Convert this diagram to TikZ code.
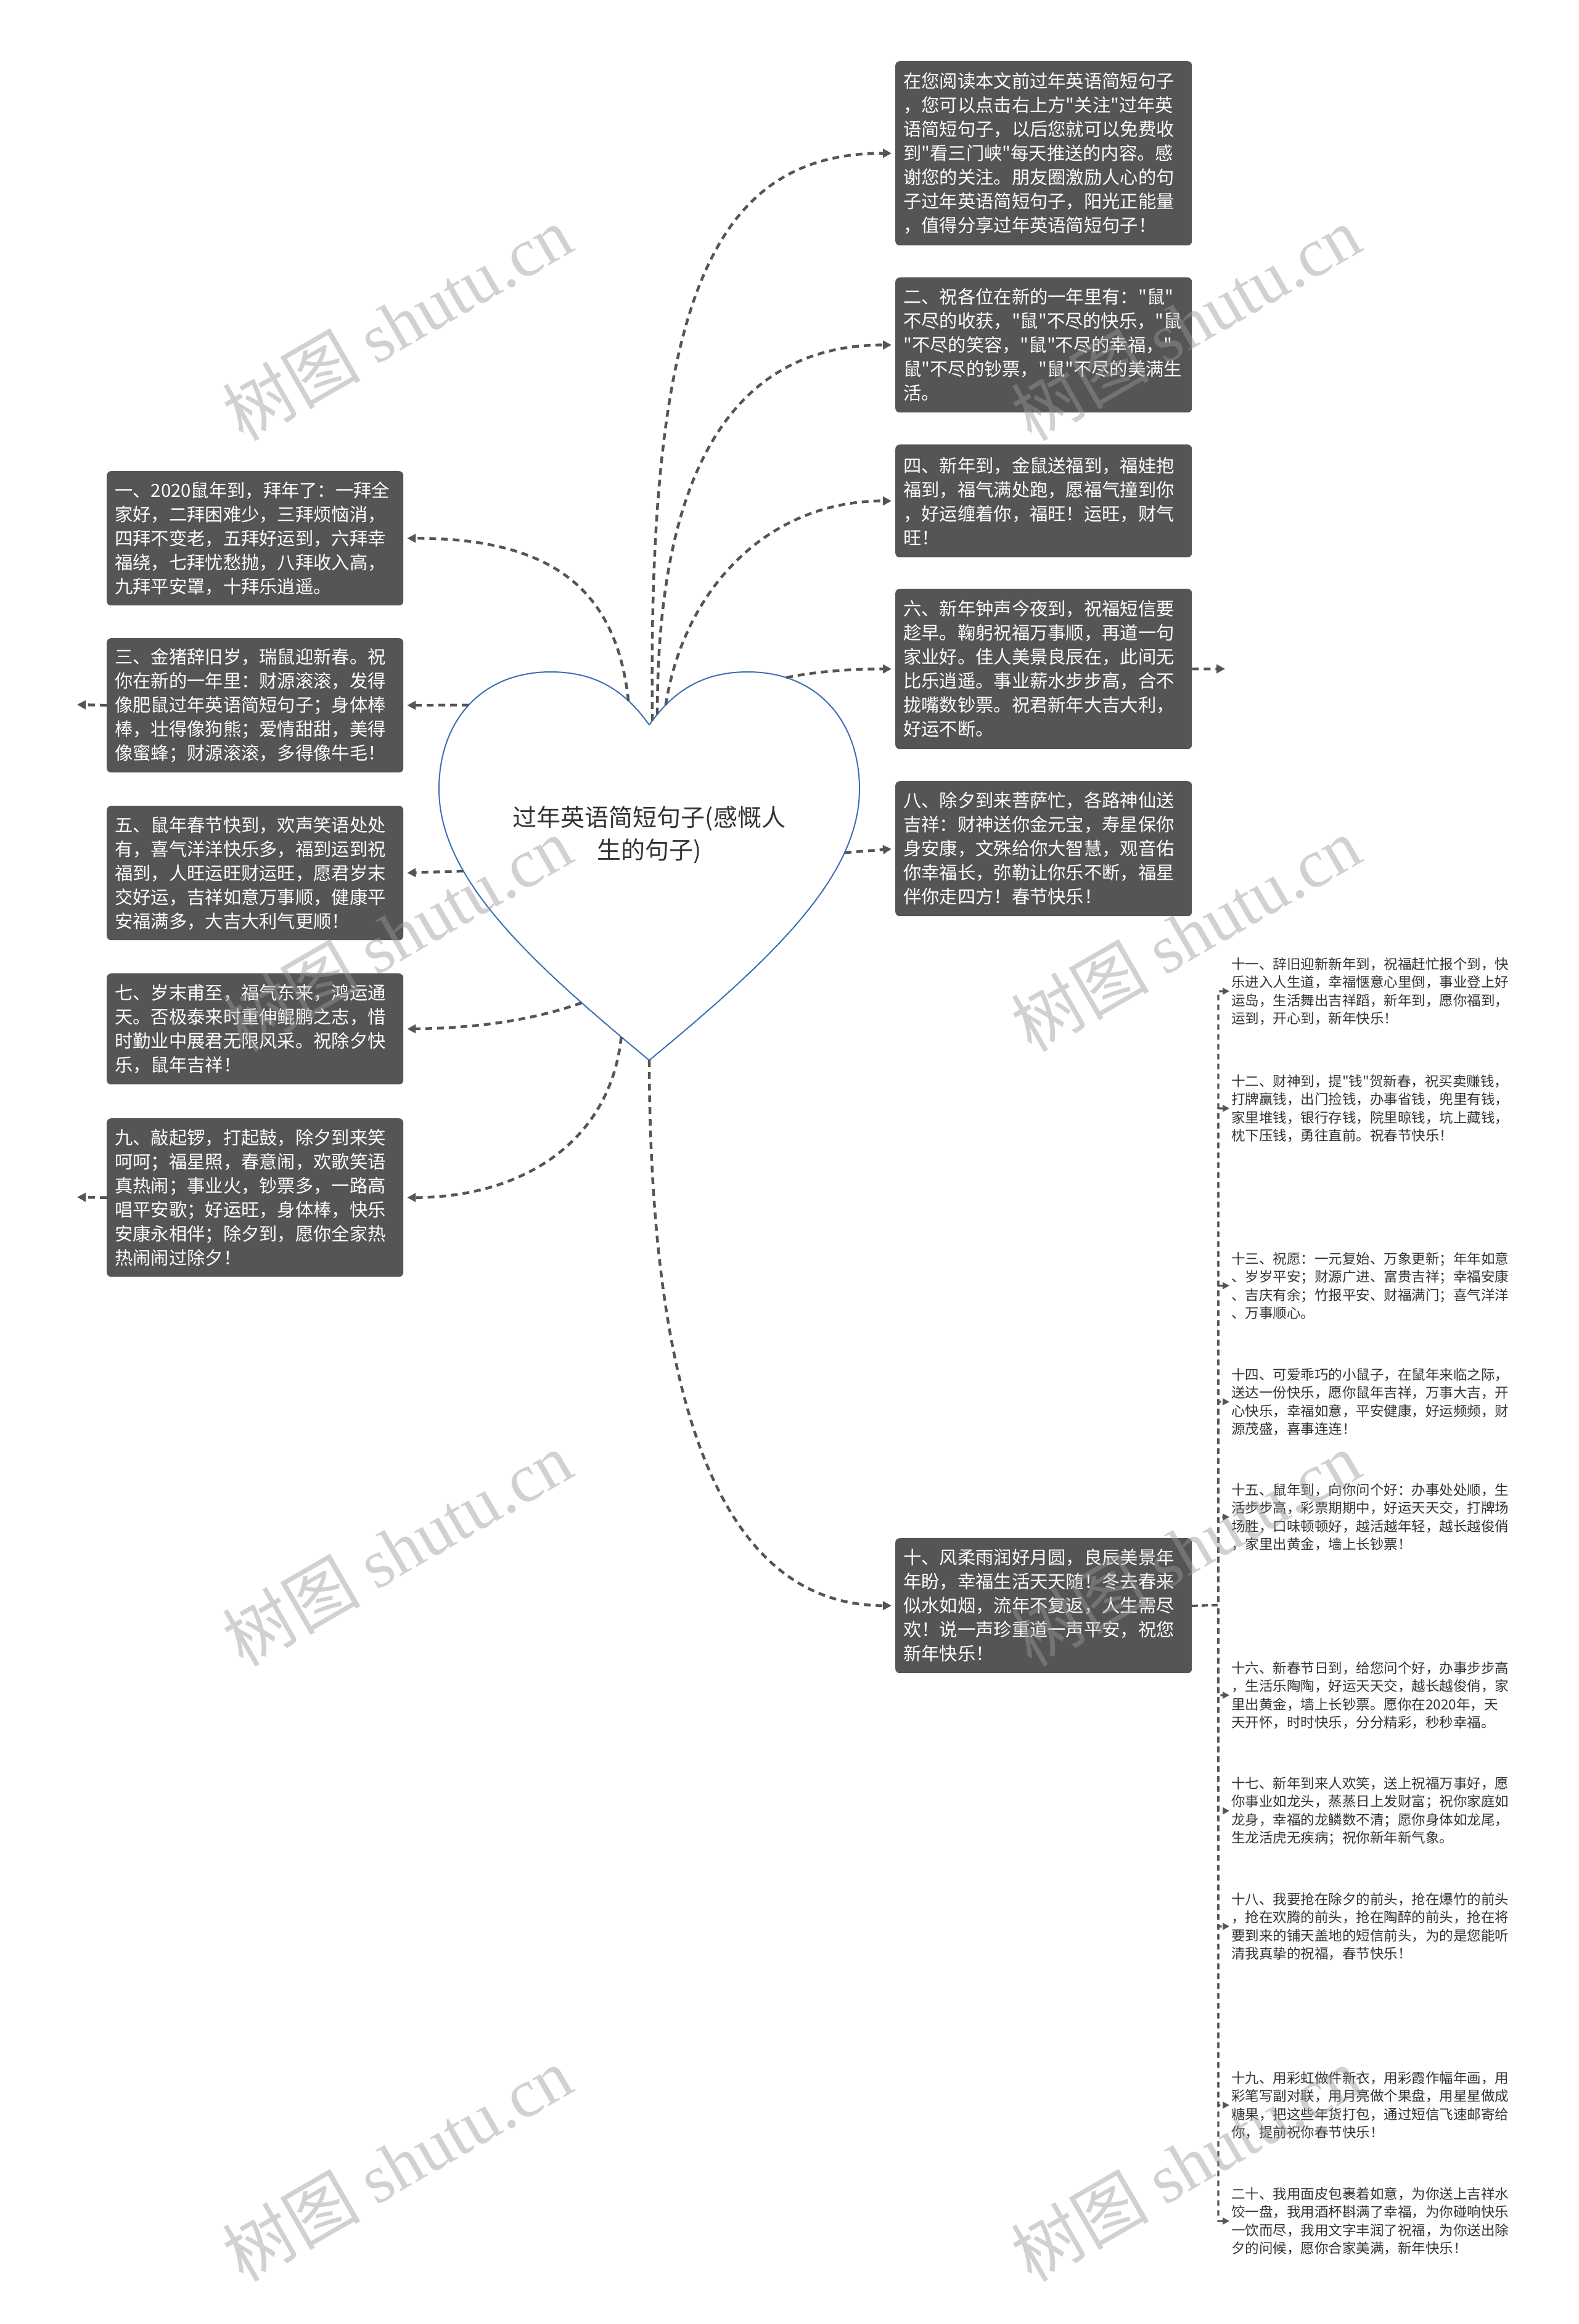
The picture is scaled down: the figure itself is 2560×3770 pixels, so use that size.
\documentclass[tikz,border=0pt]{standalone}
\usepackage{fontspec}
\setmainfont{Noto Sans CJK SC}[Ligatures=TeXOff]
\newfontfamily\wmlatin{Liberation Serif}
\usetikzlibrary{arrows.meta}
\definecolor{boxgray}{HTML}{555555}
\definecolor{linkgray}{HTML}{555555}
\definecolor{heartblue}{HTML}{3D6FB6}
\definecolor{titledark}{HTML}{333333}
\definecolor{smalltxt}{HTML}{333333}
\definecolor{wmgray}{HTML}{999999}
\begin{document}
\begin{tikzpicture}[x=1pt,y=-1pt,
  card/.style={fill=boxgray, rounded corners=7pt, text=white, align=left, inner xsep=13pt, inner ysep=0pt, text width=455pt, minimum width=481pt, anchor=north west, font=\fontsize{29.3}{39}\selectfont},
  item/.style={anchor=base west, inner sep=0pt, text=smalltxt, align=left, text width=470pt, font=\fontsize{22.5}{29.5}\selectfont},
  link/.style={draw=linkgray, line width=4.5pt, dash pattern=on 11pt off 8pt, -{Triangle[length=14pt,width=14pt]}, shorten >=6pt},
  smalllink/.style={draw=linkgray, line width=3.2pt, dash pattern=on 9pt off 7pt, -{Triangle[length=11pt,width=11pt]}, shorten >=3pt},
  wm/.style={text=wmgray, opacity=0.45, rotate=30, font=\fontsize{112}{112}\selectfont},
  heart/.style={draw=heartblue, line width=2pt}
]
\useasboundingbox[fill=white] (0,0) rectangle (2560,3770);

% heart
\draw[heart] (1053,1176)
  .. controls (1010,1115) and (960,1090) .. (893,1090) coordinate[pos=0.25] (h1)
  .. controls (780,1090) and (712,1170) .. (712,1280) coordinate[pos=0.5] (h3)
  .. controls (712,1425) and (860,1560) .. (1053,1720) coordinate[pos=0.31] (h5) coordinate[pos=0.8] (h7) coordinate[pos=0.92] (h9) coordinate[pos=1] (h10)
  .. controls (1246,1560) and (1394,1425) .. (1394,1280) coordinate[pos=0.76] (h8)
  .. controls (1394,1170) and (1326,1090) .. (1213,1090) coordinate[pos=0.8] (h6)
  .. controls (1146,1090) and (1096,1115) .. (1053,1176) coordinate[pos=0.8] (h4) coordinate[pos=0.9] (hB) coordinate[pos=0.96] (hA);
\node[font=\fontsize{39}{53}\selectfont, text=titledark, align=center, text width=500pt] (title) at (1053,1354) {过年英语简短句子(感慨人\\生的句子)};

% right upper cards
\node[card, minimum height=299pt] (nA) at (1452,99) {在您阅读本文前过年英语简短句子\\，您可以点击右上方"关注"过年英\\语简短句子，以后您就可以免费收\\到"看三门峡"每天推送的内容。感\\谢您的关注。朋友圈激励人心的句\\子过年英语简短句子，阳光正能量\\，值得分享过年英语简短句子！};
\node[card, minimum height=219pt] (n2) at (1452,450) {二、祝各位在新的一年里有："鼠"\\不尽的收获，"鼠"不尽的快乐，"鼠\\"不尽的笑容，"鼠"不尽的幸福，"\\鼠"不尽的钞票，"鼠"不尽的美满生\\活。};
\node[card, minimum height=183pt] (n4) at (1452,721) {四、新年到，金鼠送福到，福娃抱\\福到，福气满处跑，愿福气撞到你\\，好运缠着你，福旺！运旺，财气\\旺！};
\node[card, minimum height=260pt] (n6) at (1452,955) {六、新年钟声今夜到，祝福短信要\\趁早。鞠躬祝福万事顺，再道一句\\家业好。佳人美景良辰在，此间无\\比乐逍遥。事业薪水步步高，合不\\拢嘴数钞票。祝君新年大吉大利，\\好运不断。};
\node[card, minimum height=219pt] (n8) at (1452,1267) {八、除夕到来菩萨忙，各路神仙送\\吉祥：财神送你金元宝，寿星保你\\身安康，文殊给你大智慧，观音佑\\你幸福长，弥勒让你乐不断，福星\\伴你走四方！春节快乐！};
\node[card, minimum height=219pt] (n10) at (1452,2495) {十、风柔雨润好月圆，良辰美景年\\年盼，幸福生活天天随！冬去春来\\似水如烟，流年不复返，人生需尽\\欢！说一声珍重道一声平安，祝您\\新年快乐！};

% left cards
\node[card, minimum height=218pt] (n1) at (173,764) {一、2020鼠年到，拜年了：一拜全\\家好，二拜困难少，三拜烦恼消，\\四拜不变老，五拜好运到，六拜幸\\福绕，七拜忧愁抛，八拜收入高，\\九拜平安罩，十拜乐逍遥。};
\node[card, minimum height=218pt] (n3) at (173,1035) {三、金猪辞旧岁，瑞鼠迎新春。祝\\你在新的一年里：财源滚滚，发得\\像肥鼠过年英语简短句子；身体棒\\棒，壮得像狗熊；爱情甜甜，美得\\像蜜蜂；财源滚滚，多得像牛毛！};
\node[card, minimum height=218pt] (n5) at (173,1307) {五、鼠年春节快到，欢声笑语处处\\有，喜气洋洋快乐多，福到运到祝\\福到，人旺运旺财运旺，愿君岁末\\交好运，吉祥如意万事顺，健康平\\安福满多，大吉大利气更顺！};
\node[card, minimum height=180pt] (n7) at (173,1579) {七、岁末甫至，福气东来，鸿运通\\天。否极泰来时重伸鲲鹏之志，惜\\时勤业中展君无限风采。祝除夕快\\乐，鼠年吉祥！};
\node[card, minimum height=257pt] (n9) at (173,1814) {九、敲起锣，打起鼓，除夕到来笑\\呵呵；福星照，春意闹，欢歌笑语\\真热闹；事业火，钞票多，一路高\\唱平安歌；好运旺，身体棒，快乐\\安康永相伴；除夕到，愿你全家热\\热闹闹过除夕！};

% right column items
\node[item] (i11) at (1997,1572) {十一、辞旧迎新新年到，祝福赶忙报个到，快\\乐进入人生道，幸福惬意心里倒，事业登上好\\运岛，生活舞出吉祥蹈，新年到，愿你福到，\\运到，开心到，新年快乐！};
\node[item] (i12) at (1997,1762) {十二、财神到，提"钱"贺新春，祝买卖赚钱，\\打牌赢钱，出门捡钱，办事省钱，兜里有钱，\\家里堆钱，银行存钱，院里晾钱，坑上藏钱，\\枕下压钱，勇往直前。祝春节快乐！};
\node[item] (i13) at (1997,2050) {十三、祝愿：一元复始、万象更新；年年如意\\、岁岁平安；财源广进、富贵吉祥；幸福安康\\、吉庆有余；竹报平安、财福满门；喜气洋洋\\、万事顺心。};
\node[item] (i14) at (1997,2238) {十四、可爱乖巧的小鼠子，在鼠年来临之际，\\送达一份快乐，愿你鼠年吉祥，万事大吉，开\\心快乐，幸福如意，平安健康，好运频频，财\\源茂盛，喜事连连！};
\node[item] (i15) at (1997,2425) {十五、鼠年到，向你问个好：办事处处顺，生\\活步步高，彩票期期中，好运天天交，打牌场\\场胜，口味顿顿好，越活越年轻，越长越俊俏\\，家里出黄金，墙上长钞票！};
\node[item] (i16) at (1997,2714) {十六、新春节日到，给您问个好，办事步步高\\，生活乐陶陶，好运天天交，越长越俊俏，家\\里出黄金，墙上长钞票。愿你在2020年，天\\天开怀，时时快乐，分分精彩，秒秒幸福。};
\node[item] (i17) at (1997,2901) {十七、新年到来人欢笑，送上祝福万事好，愿\\你事业如龙头，蒸蒸日上发财富；祝你家庭如\\龙身，幸福的龙鳞数不清；愿你身体如龙尾，\\生龙活虎无疾病；祝你新年新气象。};
\node[item] (i18) at (1997,3089) {十八、我要抢在除夕的前头，抢在爆竹的前头\\，抢在欢腾的前头，抢在陶醉的前头，抢在将\\要到来的铺天盖地的短信前头，为的是您能听\\清我真挚的祝福，春节快乐！};
\node[item] (i19) at (1997,3379) {十九、用彩虹做件新衣，用彩霞作幅年画，用\\彩笔写副对联，用月亮做个果盘，用星星做成\\糖果，把这些年货打包，通过短信飞速邮寄给\\你，提前祝你春节快乐！};
\node[item] (i20) at (1997,3567) {二十、我用面皮包裹着如意，为你送上吉祥水\\饺一盘，我用酒杯斟满了幸福，为你碰响快乐\\一饮而尽，我用文字丰润了祝福，为你送出除\\夕的问候，愿你合家美满，新年快乐！};

% connectors from heart
\draw[link] (hA) .. controls (1050,500) and (1150,248) .. (nA.west);
\draw[link] (hB) .. controls (1066,780) and (1180,559) .. (n2.west);
\draw[link] (h4) .. controls (1110,950) and (1250,812) .. (n4.west);
\draw[link] (h6) .. controls (1330,1088) and (1390,1085) .. (n6.west);
\draw[link] (h8) -- (n8.west);
\draw[link] (h10) .. controls (1055,2450) and (1250,2604) .. (n10.west);
\draw[link] (h1) .. controls (1000,960) and (900,873) .. (n1.east);
\draw[link] (h3) -- (n3.east);
\draw[link] (h5) -- (n5.east);
\draw[link] (h7) .. controls (850,1660) and (750,1668) .. (n7.east);
\draw[link] (h9) .. controls (990,1850) and (850,1942) .. (n9.east);

% stubs
\coordinate (s3) at (125,1143);
\coordinate (s9) at (125,1942);
\coordinate (s6) at (1987,1085);
\draw[link, shorten >=0pt] (n3.west) -- (s3);
\draw[link, shorten >=0pt] (n9.west) -- (s9);
\draw[link, shorten >=0pt] (n6.east) -- (s6);

% right column connectors
\coordinate (spine) at (1976,2604);
\foreach \k in {i11,i12,i13,i14,i15,i16,i17,i18,i19,i20}
  \draw[smalllink] (n10.east) -- (spine) |- (\k.west);

% watermarks
\foreach \wx/\wy in {644/524,1923/524,644/1515,1923/1515,644/2512,1923/2512,644/3510,1923/3510}
  \node[wm] at (\wx,\wy) {树图 {\wmlatin shutu.cn}};
\end{tikzpicture}
\end{document}
